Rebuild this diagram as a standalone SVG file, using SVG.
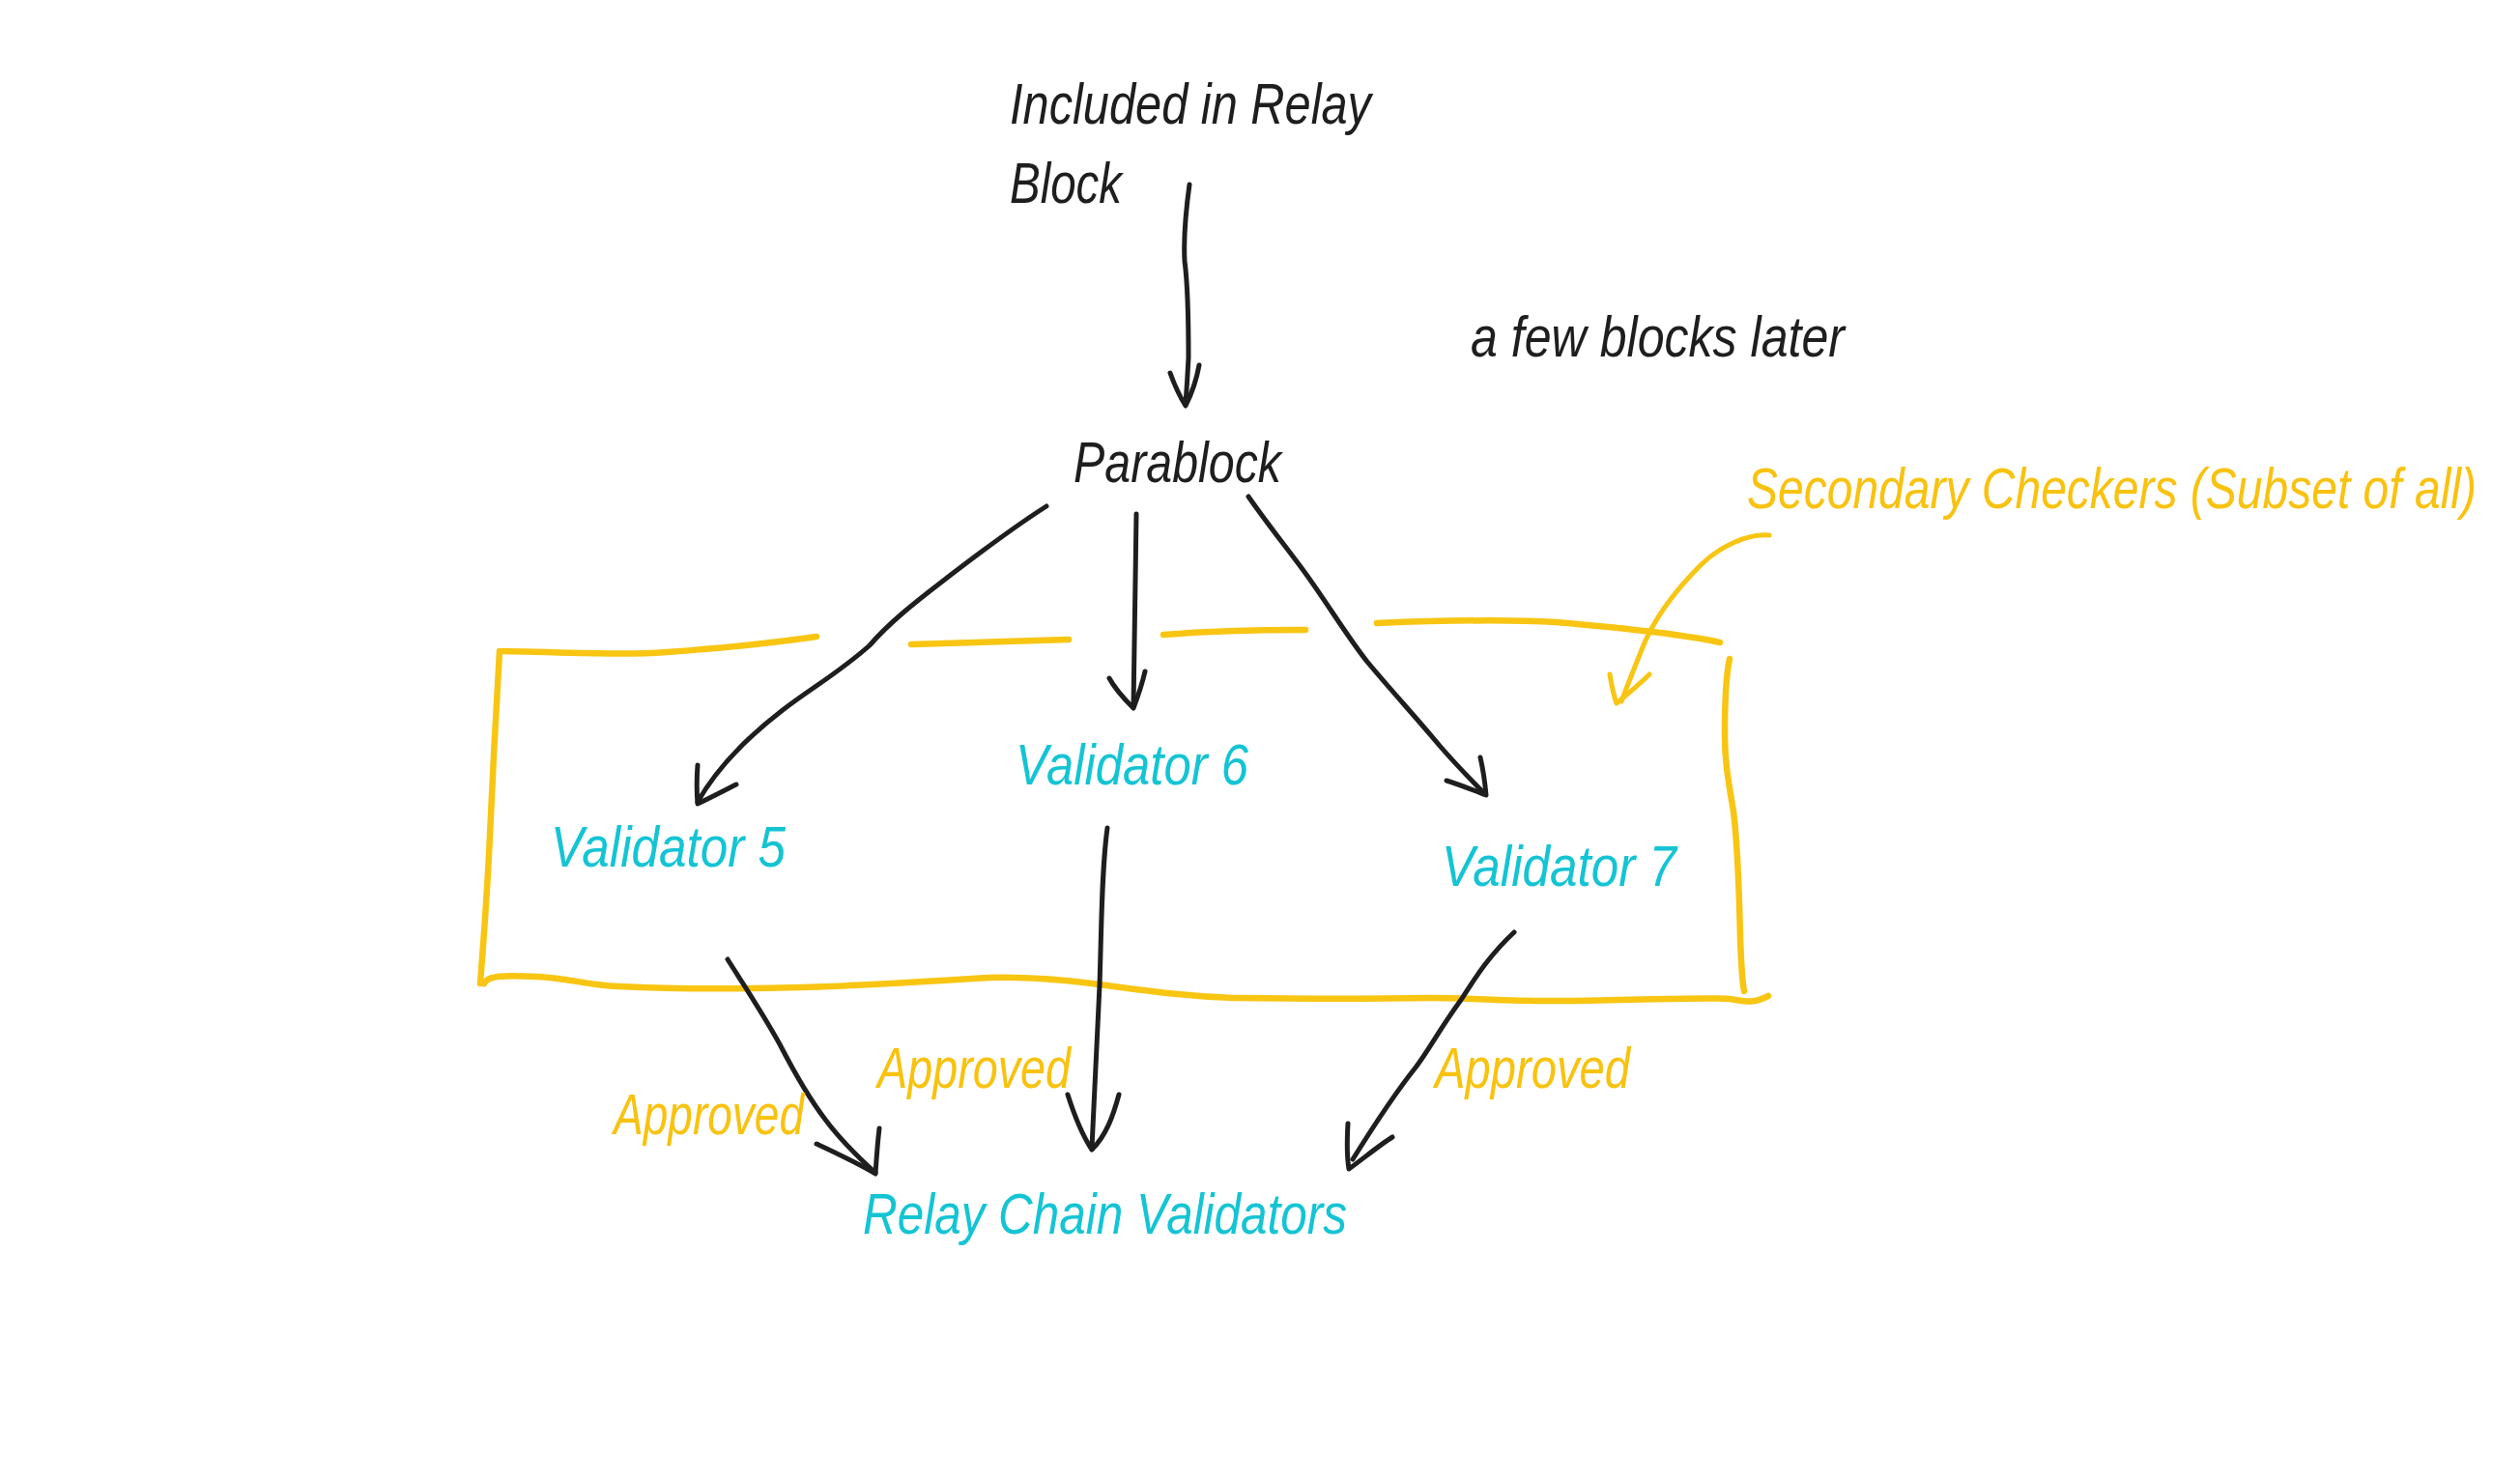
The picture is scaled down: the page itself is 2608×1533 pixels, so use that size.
<svg xmlns="http://www.w3.org/2000/svg" width="2608" height="1533" viewBox="0 0 2608 1533">
<style>
.bg{fill:#ffffff}
.t{font-family:"Liberation Sans",Arial,sans-serif;font-style:italic;font-size:60px}
.blk{fill:#1e1e1e}
.cy{fill:#14c4d4}
.yl{fill:#f8c20f}
.ln{fill:none;stroke:#1e1e1e;stroke-width:5;stroke-linecap:round;stroke-linejoin:round}
.yb{fill:none;stroke:#f8c512;stroke-width:6.5;stroke-linecap:round;stroke-linejoin:round}
.ya{fill:none;stroke:#f8c512;stroke-width:5;stroke-linecap:round;stroke-linejoin:round}
</style>
<rect class="bg" x="0" y="0" width="2608" height="1533"/>

<g id="secondary-box">
  <path class="yb" d="M521,674 C600,676 650,678 690,675 C760,670 810,664 845,659"/>
  <path class="yb" d="M943,667 L1106,662"/>
  <path class="yb" d="M1204,657 C1260,652 1310,652 1351,652"/>
  <path class="yb" d="M1425,645 C1500,642 1560,641 1610,644 C1680,650 1740,656 1780,665"/>
  <path class="yb" d="M517,674 C513,740 510,800 507,865 C504,930 500,980 497,1018"/>
  <path class="yb" d="M501,1018 C505,1010 520,1009 557,1011 C590,1013 610,1020 640,1021 C700,1024 760,1024 830,1022 C900,1020 960,1016 1023,1012 C1060,1011 1090,1013 1130,1018 C1190,1026 1230,1032 1281,1033 C1350,1034 1420,1034 1480,1033 C1530,1033 1560,1037 1620,1036 C1700,1035 1760,1032 1790,1034 C1805,1036 1812,1040 1830,1031"/>
  <path class="yb" d="M1790,682 C1786,700 1785,730 1785,760 C1785,790 1789,810 1794,840 C1799,880 1800,930 1801,970 C1802,1000 1803,1015 1805,1026"/>
</g>

<g id="connectors">
  <path class="ln" d="M1231,191 C1227,220 1225,250 1226,270 C1230,300 1230,340 1230,370 C1229,390 1228,405 1227,418"/>
  <path class="ln" d="M1211,386 C1216,400 1222,412 1227,420 C1233,408 1238,395 1241,378"/>
  <path class="ln" d="M1083,524 C1050,545 1010,575 975,602 C945,625 920,645 900,668 C870,695 840,712 810,735 C780,758 745,790 722,830"/>
  <path class="ln" d="M722,792 C721,805 721,820 722,832 C735,826 750,818 762,812"/>
  <path class="ln" d="M1176,532 C1175,600 1174,670 1173,732"/>
  <path class="ln" d="M1148,702 C1155,715 1165,725 1173,733 C1178,720 1182,708 1185,695"/>
  <path class="ln" d="M1292,514 C1310,540 1330,565 1350,592 C1372,622 1395,660 1415,685 C1440,715 1465,742 1490,772 C1510,795 1525,810 1537,822"/>
  <path class="ln" d="M1497,808 C1510,812 1525,818 1538,823 C1537,812 1535,797 1532,784"/>
  <path class="ln" d="M753,993 C770,1020 790,1050 807,1081 C822,1110 838,1138 855,1160 C870,1180 885,1195 906,1214"/>
  <path class="ln" d="M845,1184 C862,1192 890,1205 906,1215 C907,1200 908,1185 910,1168"/>
  <path class="ln" d="M1146,857 C1140,900 1140,960 1138,1020 C1135,1080 1132,1140 1130,1188"/>
  <path class="ln" d="M1105,1133 C1112,1155 1120,1175 1130,1190 C1145,1175 1152,1155 1158,1133"/>
  <path class="ln" d="M1567,965 C1540,990 1525,1015 1512,1035 C1490,1065 1480,1085 1465,1105 C1445,1130 1425,1160 1400,1200"/>
  <path class="ln" d="M1395,1163 C1394,1180 1394,1198 1396,1210 C1410,1200 1428,1185 1441,1177"/>
  <path class="ya" d="M1831,554 C1810,552 1780,565 1760,585 C1735,610 1712,640 1700,670 C1690,695 1684,710 1678,726"/>
  <path class="ya" d="M1666,698 C1668,710 1670,720 1673,728 C1685,718 1697,708 1707,698"/>
</g>

<g id="node-included">
  <text class="t blk" x="1045" y="128" textLength="374" lengthAdjust="spacingAndGlyphs">Included in Relay</text>
  <text class="t blk" x="1045" y="210" textLength="116" lengthAdjust="spacingAndGlyphs">Block</text>
</g>
<g id="node-later">
  <text class="t blk" x="1522" y="369" textLength="387" lengthAdjust="spacingAndGlyphs">a few blocks later</text>
</g>
<g id="node-parablock">
  <text class="t blk" x="1111" y="499" textLength="215" lengthAdjust="spacingAndGlyphs">Parablock</text>
</g>
<g id="node-secondary">
  <text class="t yl" transform="translate(1808,526) scale(0.8,1)" x="0" y="0">Secondary Checkers (Subset of all)</text>
</g>
<g id="node-validator6">
  <text class="t cy" x="1051" y="812" textLength="241" lengthAdjust="spacingAndGlyphs">Validator 6</text>
</g>
<g id="node-validator5">
  <text class="t cy" x="570" y="897" textLength="243" lengthAdjust="spacingAndGlyphs">Validator 5</text>
</g>
<g id="node-validator7">
  <text class="t cy" x="1492" y="917" textLength="243" lengthAdjust="spacingAndGlyphs">Validator 7</text>
</g>
<g id="node-approved5">
  <text class="t yl" x="635" y="1174" textLength="197" lengthAdjust="spacingAndGlyphs">Approved</text>
</g>
<g id="node-approved6">
  <text class="t yl" x="908" y="1126" textLength="200" lengthAdjust="spacingAndGlyphs">Approved</text>
</g>
<g id="node-approved7">
  <text class="t yl" x="1485" y="1126" textLength="202" lengthAdjust="spacingAndGlyphs">Approved</text>
</g>
<g id="node-relay">
  <text class="t cy" x="893" y="1277" textLength="501" lengthAdjust="spacingAndGlyphs">Relay Chain Validators</text>
</g>
</svg>
